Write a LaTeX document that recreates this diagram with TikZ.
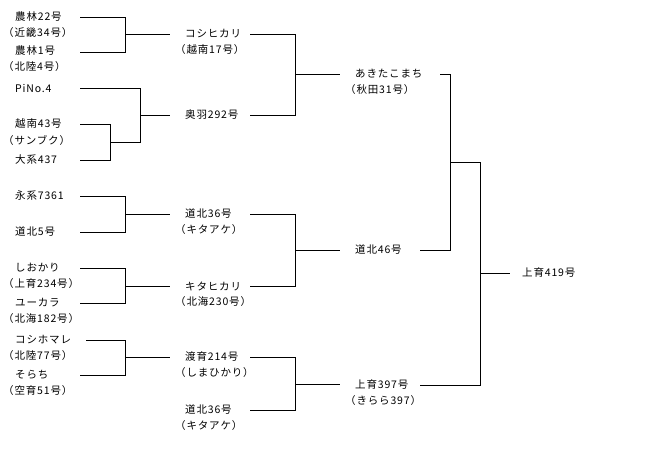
\documentclass[tikz,border=0pt]{standalone}
\usepackage{fontspec}
\setmainfont{Noto Sans CJK JP}[LetterSpace=8]
\begin{document}
\begin{tikzpicture}[x=1pt,y=-1pt,
  t/.style={inner sep=0pt,font=\fontsize{10.5}{12}\selectfont},
  ln/.style={line width=0.7pt}]
\useasboundingbox (0,0) rectangle (670,456);
% left column
\node[t,anchor=west] (a1) at (15,17) {農林22号};
\node[t,anchor=west] (a1p) at (3,33) {（近畿34号）};
\node[t,anchor=west] (a2) at (15,51) {農林1号};
\node[t,anchor=west] (a2p) at (3,67) {（北陸4号）};
\node[t,anchor=west] (a3) at (15,88) {PiNo.4};
\node[t,anchor=west] (a4) at (15,124) {越南43号};
\node[t,anchor=west] (a4p) at (3,140) {（サンブク）};
\node[t,anchor=west] (a5) at (15,160) {大系437};
\node[t,anchor=west] (a6) at (15,196) {永系7361};
\node[t,anchor=west] (a7) at (15,232) {道北5号};
\node[t,anchor=west] (a8) at (15,268) {しおかり};
\node[t,anchor=west] (a8p) at (3,284) {（上育234号）};
\node[t,anchor=west] (a9) at (15,303) {ユーカラ};
\node[t,anchor=west] (a9p) at (3,319) {（北海182号）};
\node[t,anchor=west] (a10) at (15,340) {コシホマレ};
\node[t,anchor=west] (a10p) at (3,356) {（北陸77号）};
\node[t,anchor=west] (a11) at (15,375) {そらち};
\node[t,anchor=west] (a11p) at (3,391) {（空育51号）};
% middle column
\node[t,anchor=west] (b1) at (185,34) {コシヒカリ};
\node[t,anchor=west] (b1p) at (175,50) {（越南17号）};
\node[t,anchor=west] (b2) at (185,115) {奥羽292号};
\node[t,anchor=west] (b3) at (185,214) {道北36号};
\node[t,anchor=west] (b3p) at (175,230) {（キタアケ）};
\node[t,anchor=west] (b4) at (185,286) {キタヒカリ};
\node[t,anchor=west] (b4p) at (175,302) {（北海230号）};
\node[t,anchor=west] (b5) at (185,357) {渡育214号};
\node[t,anchor=west] (b5p) at (175,373) {（しまひかり）};
\node[t,anchor=west] (b6) at (185,410) {道北36号};
\node[t,anchor=west] (b6p) at (175,426) {（キタアケ）};
% third column
\node[t,anchor=west] (c1) at (355,74) {あきたこまち};
\node[t,anchor=west] (c1p) at (345,90) {（秋田31号）};
\node[t,anchor=west] (c2) at (355,250) {道北46号};
\node[t,anchor=west] (c3) at (355,385) {上育397号};
\node[t,anchor=west] (c3p) at (345,401) {（きらら397）};
\node[t,anchor=west] (d1) at (522,273) {上育419号};
% connectors
\draw[ln] (80,17) -| (125,52) -- (80,52);
\draw[ln] (125,34) -- (170,34);
\draw[ln] (80,124) -| (110,160) -- (80,160);
\draw[ln] (80,88) -| (140,142) -- (110,142);
\draw[ln] (140,115) -- (170,115);
\draw[ln] (80,196) -| (125,232) -- (80,232);
\draw[ln] (125,214) -- (170,214);
\draw[ln] (80,268) -| (125,303) -- (80,303);
\draw[ln] (125,286) -- (170,286);
\draw[ln] (86,340) -| (125,375) -- (80,375);
\draw[ln] (125,357) -- (170,357);
\draw[ln] (250,34) -| (295,115) -- (250,115);
\draw[ln] (295,74) -- (340,74);
\draw[ln] (250,214) -| (295,286) -- (250,286);
\draw[ln] (295,250) -- (340,250);
\draw[ln] (250,357) -| (295,410) -- (250,410);
\draw[ln] (295,384) -- (340,384);
\draw[ln] (440,74) -| (450,250) -- (420,250);
\draw[ln] (450,162) -- (480,162);
\draw[ln] (420,385) -| (480,162);
\draw[ln] (480,273) -- (510,273);
\end{tikzpicture}
\end{document}
